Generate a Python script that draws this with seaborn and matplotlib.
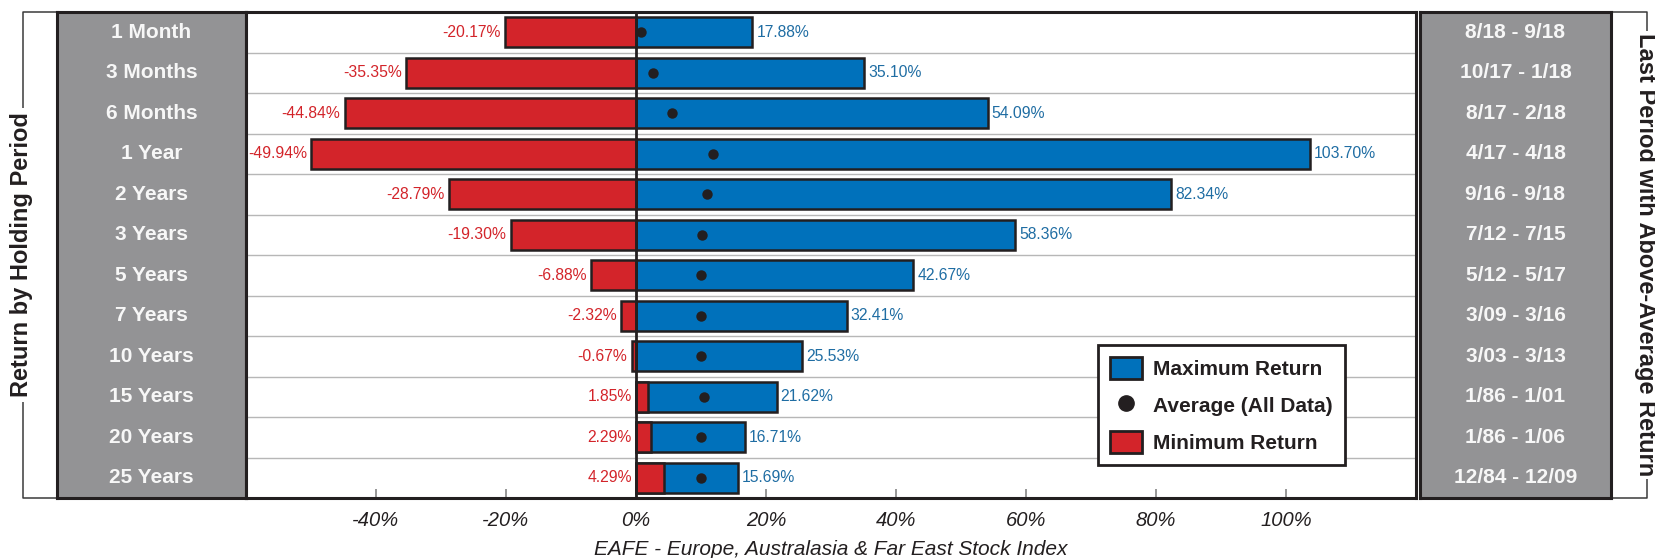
import matplotlib
matplotlib.use("Agg")
import matplotlib.pyplot as plt
import seaborn as sns
import pandas as pd
from matplotlib.patches import Patch
from matplotlib.lines import Line2D

# ---------------- data ----------------
periods = ["1 Month", "3 Months", "6 Months", "1 Year", "2 Years", "3 Years",
           "5 Years", "7 Years", "10 Years", "15 Years", "20 Years", "25 Years"]
max_return = [17.88, 35.10, 54.09, 103.70, 82.34, 58.36, 42.67, 32.41, 25.53, 21.62, 16.71, 15.69]
min_return = [-20.17, -35.35, -44.84, -49.94, -28.79, -19.30, -6.88, -2.32, -0.67, 1.85, 2.29, 4.29]
avg_return = [0.8, 2.6, 5.5, 11.8, 10.9, 10.2, 10.0, 10.0, 10.0, 10.4, 10.0, 10.0]
last_period = ["8/18 - 9/18", "10/17 - 1/18", "8/17 - 2/18", "4/17 - 4/18", "9/16 - 9/18",
               "7/12 - 7/15", "5/12 - 5/17", "3/09 - 3/16", "3/03 - 3/13", "1/86 - 1/01",
               "1/86 - 1/06", "12/84 - 12/09"]
x_ticks = [-40, -20, 0, 20, 40, 60, 80, 100]
x_tick_labels = ["-40%", "-20%", "0%", "20%", "40%", "60%", "80%", "100%"]
legend_labels = ["Maximum Return", "Average (All Data)", "Minimum Return"]
x_title = "EAFE - Europe, Australasia & Far East Stock Index"
left_title = "Return by Holding Period"
right_title = "Last Period with Above-Average Return"

# ---------------- style ----------------
BLUE = "#0071bb"
BLUE_TXT = "#1f6da3"
RED = "#d3242a"
DARK = "#231f20"
GRAY_PANEL = "#939395"
GRID = "#b7b7b7"

sns.set_theme(style="white")
plt.rcParams["font.family"] = ["Liberation Sans", "DejaVu Sans"]

W, H = 1656, 558
fig = plt.figure(figsize=(W / 100, H / 100), dpi=100)

top_px, bot_px = 12, 498
bottom = (H - bot_px) / H
height = (bot_px - top_px) / H

# overlay for brackets / side titles
ax_o = fig.add_axes([0, 0, 1, 1], zorder=0)
ax_o.set_xlim(0, W)
ax_o.set_ylim(H, 0)
ax_o.axis("off")
ax_o.plot([57, 23, 23, 57], [top_px, top_px, bot_px, bot_px], color="#3a3a3a", lw=1.1)
ax_o.plot([1611, 1647, 1647, 1611], [top_px, top_px, bot_px, bot_px], color="#3a3a3a", lw=1.1)
ax_o.text(22, 255, left_title, rotation=90, ha="center", va="center", fontsize=17,
          fontweight="bold", color=DARK,
          bbox=dict(facecolor="white", edgecolor="none", pad=3))
ax_o.text(1646, 255, right_title, rotation=270, ha="center", va="center", fontsize=17,
          fontweight="bold", color=DARK,
          bbox=dict(facecolor="white", edgecolor="none", pad=2))

# ---------------- main axes ----------------
ax = fig.add_axes([246 / W, bottom, 1170 / W, height], zorder=2)
df = pd.DataFrame({"period": periods, "max": max_return, "min": min_return, "avg": avg_return})

sns.barplot(data=df, x="max", y="period", orient="h", color=BLUE, saturation=1,
            edgecolor=DARK, linewidth=1.8, width=0.74, errorbar=None, ax=ax, zorder=2)
sns.barplot(data=df, x="min", y="period", orient="h", color=RED, saturation=1,
            edgecolor=DARK, linewidth=1.8, width=0.74, errorbar=None, ax=ax, zorder=3)
ax.axvline(0, color=DARK, lw=2.0, zorder=5)
sns.stripplot(data=df, x="avg", y="period", orient="h", jitter=False, color=DARK,
              size=7.5, linewidth=0, ax=ax, zorder=6)

for i in range(len(periods) - 1):
    ax.axhline(i + 0.5, color=GRID, lw=1.0, zorder=1)

for i, (mx, mn) in enumerate(zip(max_return, min_return)):
    ax.annotate(f"{mx:.2f}%", xy=(mx, i), xytext=(3, 0), textcoords="offset points",
                ha="left", va="center", color=BLUE_TXT, fontsize=11.3, zorder=7)
    ax.annotate(f"{mn:.2f}%", xy=(min(mn, 0), i), xytext=(-3, 0), textcoords="offset points",
                ha="right", va="center", color=RED, fontsize=11.3, zorder=7)

ax.set_xlim(-60, 120)
ax.set_ylim(len(periods) - 0.5, -0.5)
ax.set_yticks([])
ax.set_ylabel("")
ax.set_xticks(x_ticks)
ax.set_xticklabels(x_tick_labels, fontsize=14.5, style="italic", color=DARK)
ax.tick_params(axis="x", direction="in", length=6.5, width=1.1, color="#7a7a7a", pad=9,
               bottom=True, top=False)
ax.set_xlabel(x_title, fontsize=15, style="italic", color=DARK, labelpad=7.5)
for s in ax.spines.values():
    s.set_color(DARK)
    s.set_linewidth(2.2)
    s.set_visible(True)

handles = [
    Patch(facecolor=BLUE, edgecolor=DARK, linewidth=2),
    Line2D([], [], marker="o", linestyle="none", markersize=11, color=DARK),
    Patch(facecolor=RED, edgecolor=DARK, linewidth=2),
]
leg = ax.legend(handles, legend_labels, loc="upper left", bbox_to_anchor=(0.728, 0.315),
                borderaxespad=0, frameon=True, fancybox=False, framealpha=1,
                edgecolor=DARK, handlelength=1.5, handleheight=1.25, handletextpad=0.55,
                labelspacing=0.7, borderpad=0.6,
                prop={"size": 15, "weight": "bold"})
leg.get_frame().set_linewidth(2.0)
leg.set_zorder(10)
for t in leg.get_texts():
    t.set_color(DARK)

# ---------------- side panels ----------------
def panel(left_px, width_px, labels):
    a = fig.add_axes([left_px / W, bottom, width_px / W, height], zorder=1)
    a.set_facecolor(GRAY_PANEL)
    a.set_xlim(0, 1)
    a.set_ylim(len(labels) - 0.5, -0.5)
    a.set_xticks([])
    a.set_yticks([])
    for s in a.spines.values():
        s.set_color(DARK)
        s.set_linewidth(2.2)
    for i, lab in enumerate(labels):
        a.text(0.5, i, lab, ha="center", va="center", fontsize=15, fontweight="bold",
               color="#f7f7f7")
    return a

panel(57, 189, periods)
panel(1420, 191, last_period)

fig.savefig("out.png", dpi=100)
